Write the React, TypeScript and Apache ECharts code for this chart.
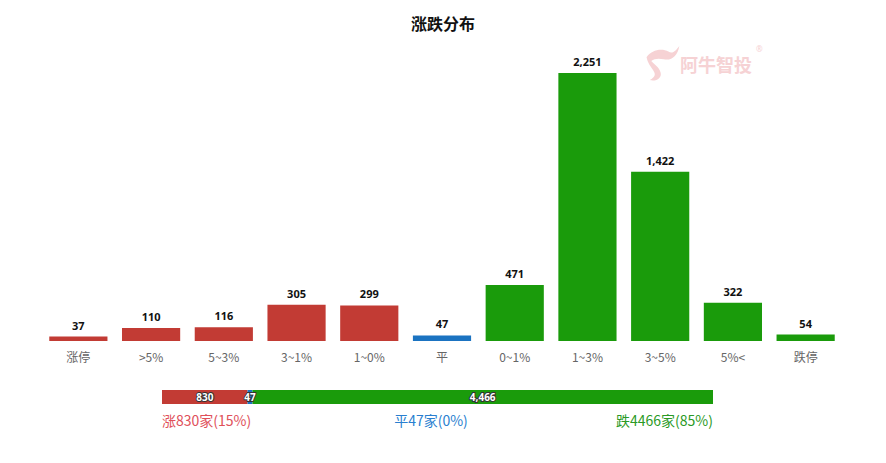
import React, { useEffect, useRef } from "react";
import * as echarts from "echarts";

const categories = ["涨停", ">5%", "5~3%", "3~1%", "1~0%", "平", "0~1%", "1~3%", "3~5%", "5%<", "跌停"];
const counts = [37, 110, 116, 305, 299, 47, 471, 2251, 1422, 322, 54];
const barKinds = ["up", "up", "up", "up", "up", "flat", "down", "down", "down", "down", "down"];

const summaryNames = ["涨", "平", "跌"];
const summaryCounts = [830, 47, 4466];
const summaryPercents = ["15%", "0%", "85%"];

const RED = "#c23b34";
const BLUE = "#1b73c1";
const GREEN = "#1a9b0b";
const kindColor: Record<string, string> = { up: RED, flat: BLUE, down: GREEN };

const logoPath =
  "M2 14 C8 6 22 4 30 8 C36 11 40 6 44 2 C42 12 34 18 24 16 C18 15 12 15 8 18 C12 22 18 24 20 30 C22 36 14 40 6 38 C10 36 14 34 12 30 C10 26 4 22 2 14 Z";

export default function App() {
  const ref = useRef<HTMLDivElement>(null);
  useEffect(() => {
    if (!ref.current) return;
    try {
      echarts.graphic.registerShape("logo", echarts.graphic.extendPath(logoPath, {}) as any);
    } catch (e) {}
    const chart = echarts.init(ref.current, null, { renderer: "svg" });
    const total = summaryCounts.reduce((a, b) => a + b, 0);
    const summaryColors = [RED, BLUE, GREEN];
    const option: any = {
      animation: false,
      title: {
        text: "涨跌分布",
        left: "center",
        top: 10,
        textStyle: { fontSize: 16, fontWeight: "bold", color: "#111", fontFamily: "Noto Sans CJK SC" },
      },
      grid: [
        { left: 42, right: 44, top: 73, bottom: 122, containLabel: false },
        { left: 162, width: 551, top: 390, height: 14, containLabel: false },
      ],
      xAxis: [
        {
          type: "category",
          gridIndex: 0,
          data: categories,
          axisLine: { show: false },
          axisTick: { show: false },
          axisLabel: { color: "#666", fontSize: 12, margin: 9, fontFamily: "Noto Sans CJK SC" },
        },
        { type: "value", gridIndex: 1, min: 0, max: total, show: false },
      ],
      yAxis: [
        { type: "value", gridIndex: 0, min: 0, max: 2251, show: false, splitLine: { show: false } },
        { type: "category", gridIndex: 1, data: ["all"], show: false },
      ],
      series: [
        {
          type: "bar",
          xAxisIndex: 0,
          yAxisIndex: 0,
          barWidth: "80%",
          data: counts.map((v, i) => ({ value: v, itemStyle: { color: kindColor[barKinds[i]] } })),
          label: {
            show: true,
            position: "top",
            distance: 6,
            color: "#111",
            fontSize: 11,
            fontWeight: "bold",
            fontFamily: "Noto Sans",
            formatter: (p: any) => Number(p.value).toLocaleString("en-US"),
          },
        },
        ...summaryCounts.map((v, i) => ({
          type: "bar",
          name: summaryNames[i],
          xAxisIndex: 1,
          yAxisIndex: 1,
          stack: "sum",
          barWidth: 14,
          data: [v],
          itemStyle: { color: summaryColors[i] },
          label: {
            show: true,
            position: "inside",
            color: "#fff",
            fontSize: 10,
            fontWeight: "bold",
            textBorderColor: "#333",
            textBorderWidth: 2,
            fontFamily: "Noto Sans",
            formatter: (p: any) => Number(p.value).toLocaleString("en-US"),
          },
        })),
      ],
      graphic: [
        {
          type: "text",
          left: 162,
          top: 413,
          style: {
            text: `${summaryNames[0]}${summaryCounts[0]}家(${summaryPercents[0]})`,
            fill: "#e0505a",
            fontSize: 14,
            fontFamily: "Noto Sans CJK SC",
          },
        },
        {
          type: "text",
          x: 431,
          y: 413,
          style: {
            text: `${summaryNames[1]}${summaryCounts[1]}家(${summaryPercents[1]})`,
            fill: "#2a7fd0",
            fontSize: 14,
            align: "center",
            fontFamily: "Noto Sans CJK SC",
          },
        },
        {
          type: "text",
          x: 713,
          y: 413,
          style: {
            text: `${summaryNames[2]}${summaryCounts[2]}家(${summaryPercents[2]})`,
            fill: "#2a9a25",
            fontSize: 14,
            align: "right",
            fontFamily: "Noto Sans CJK SC",
          },
        },
        {
          type: "logo",
          x: 645,
          y: 44,
          scaleX: 0.78,
          scaleY: 0.95,
          style: { fill: "#f6d2d4" },
        },
        {
          type: "text",
          x: 680,
          y: 55,
          style: {
            text: "阿牛智投",
            fill: "#f6d2d4",
            fontSize: 18,
            fontWeight: "bold",
            fontFamily: "Noto Sans CJK SC",
          },
        },
        {
          type: "text",
          x: 756,
          y: 44,
          style: { text: "®", fill: "#f6d2d4", fontSize: 8, fontFamily: "Noto Sans" },
        },
      ],
    };
    chart.setOption(option);
    return () => chart.dispose();
  }, []);
  return (
    <div
      ref={ref}
      style={{ position: "fixed", left: 0, top: 0, width: 886, height: 463, background: "#fff" }}
    />
  );
}
